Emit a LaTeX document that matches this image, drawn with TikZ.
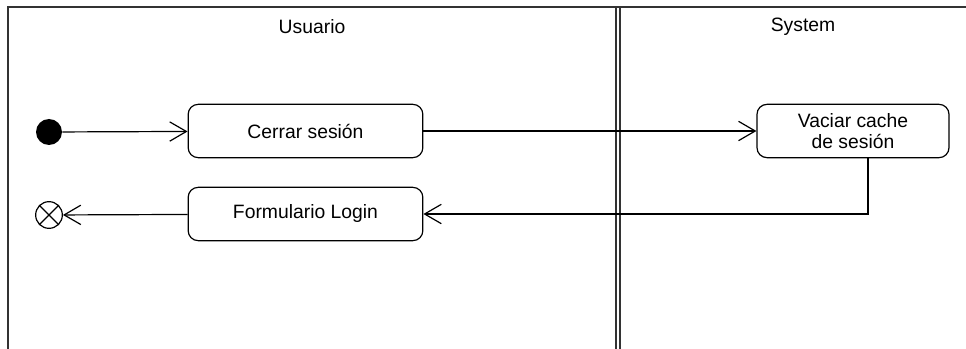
\documentclass[tikz,border=0pt]{standalone}
\usepackage{fontspec}
\setmainfont{Liberation Sans}
\usetikzlibrary{arrows.meta}

\tikzset{
  lane/.style={draw=black!80, line width=1.5pt},
  action/.style={draw, line width=0.9pt, rounded corners=7.5pt, align=center,
    minimum height=40pt, inner sep=2pt},
  flow/.style={line width=0.9pt, -{Straight Barb[length=12.5pt,width=14.5pt,line width=0.9pt]}},
}

\begin{document}
\begin{tikzpicture}[x=0.75pt,y=-0.75pt,font=\fontsize{14.5}{15.8}\selectfont]
  \useasboundingbox (0,0) rectangle (966,349);
  % swimlanes
  \draw[lane] (8,349) -- (8,7) -- (966,7);
  \draw[lane] (616,7) -- (616,349);
  \draw[lane] (620,7) -- (620,349);
  \node (usuario) at (312,27) {Usuario};
  \node (system) at (803,27) {System};

  % actions
  \node[action, minimum width=176pt] (cerrar) at (305.5,131) {Cerrar sesión};
  \node[action, minimum width=176pt] (login) at (305.5,214) {Formulario Login};
  \node[action, minimum width=144pt] (vaciar) at (853,131) {Vaciar cache\\de sesión};

  % start and end
  \node[circle, fill=black, minimum size=19.5pt, inner sep=0pt] (start) at (49,132) {};
  \node[circle, draw, line width=0.9pt, minimum size=20pt, inner sep=0pt] (end) at (49,215) {};
  \draw[line width=0.9pt] (end.north west) -- (end.south east);
  \draw[line width=0.9pt] (end.north east) -- (end.south west);

  \draw[flow] (start) -- (cerrar);
  \draw[flow] (cerrar) -- (vaciar);
  \draw[flow] ([xshift=11.25pt]vaciar.south) |- (login.east);
  \draw[flow] (login) -- (end);
\end{tikzpicture}
\end{document}
